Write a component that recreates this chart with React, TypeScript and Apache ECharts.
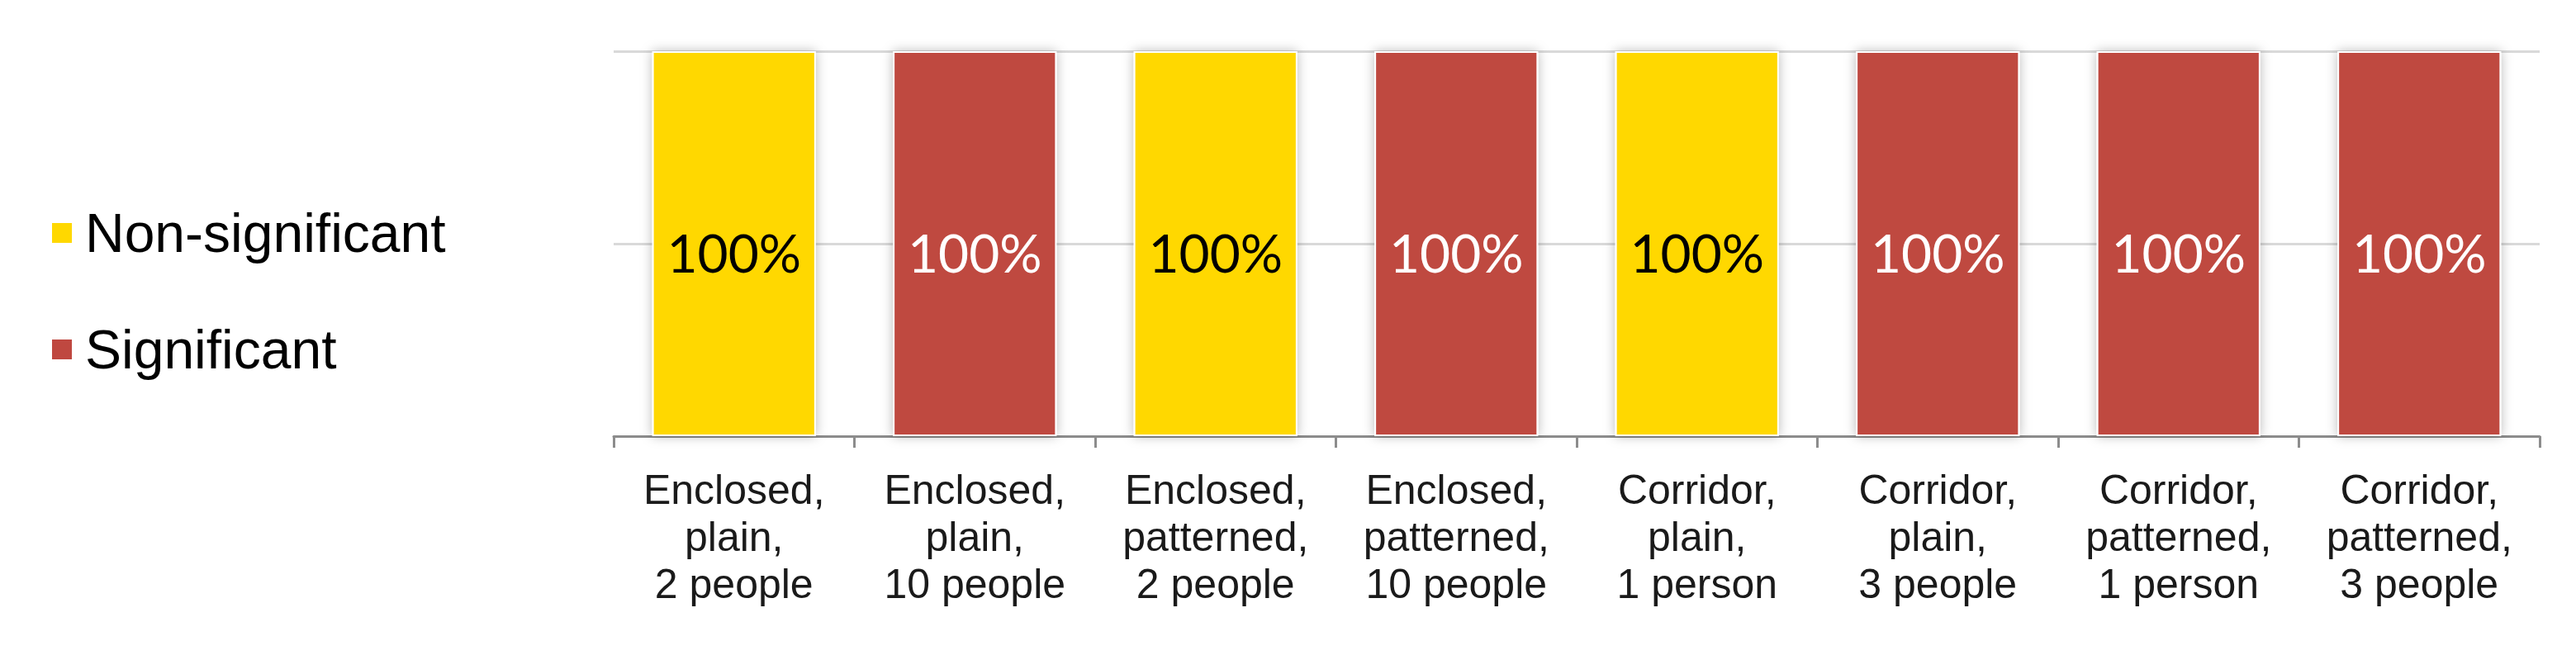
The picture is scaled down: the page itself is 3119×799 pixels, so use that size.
import React, { useEffect, useRef } from "react";
import * as echarts from "echarts";

const categories = [
  "Enclosed,\nplain,\n2 people",
  "Enclosed,\nplain,\n10 people",
  "Enclosed,\npatterned,\n2 people",
  "Enclosed,\npatterned,\n10 people",
  "Corridor,\nplain,\n1 person",
  "Corridor,\nplain,\n3 people",
  "Corridor,\npatterned,\n1 person",
  "Corridor,\npatterned,\n3 people",
];

const nonSignificant = [100, null, 100, null, 100, null, null, null];
const significant = [null, 100, null, 100, null, 100, 100, 100];

const YELLOW = "#FFD800";
const RED = "#BF4840";

export default function App() {
  const ref = useRef<HTMLDivElement>(null);
  useEffect(() => {
    if (!ref.current) return;
    const chart = echarts.init(ref.current, null, { renderer: "svg" });
    const barStyle = (color: string) => ({
      color,
      borderColor: "#ffffff",
      borderWidth: 2,
      shadowColor: "rgba(0,0,0,0.28)",
      shadowBlur: 14,
    });
    const labelStyle = (color: string) => ({
      show: true,
      position: "inside",
      offset: [0, 10],
      formatter: (p: any) => (p.value ? p.value + "%" : ""),
      fontFamily: "Lato",
      fontSize: 64,
      color,
    });
    chart.setOption({
      animation: false,
      backgroundColor: "#ffffff",
      legend: {
        orient: "vertical",
        left: 56,
        top: 234,
        itemWidth: 26,
        itemHeight: 26,
        itemGap: 55,
        icon: "rect",
        textStyle: {
          fontFamily: "Liberation Sans",
          fontSize: 66,
          color: "#000000",
          lineHeight: 74,
          padding: [12, 0, 0, 10],
        },
        data: ["Non-significant", "Significant"],
      },
      grid: {
        left: 743,
        right: 44,
        top: 62,
        bottom: 271,
        containLabel: false,
      },
      xAxis: {
        type: "category",
        data: categories,
        axisLine: { show: true, lineStyle: { color: "#8C8C8C", width: 3 } },
        axisTick: { show: true, length: 14, lineStyle: { color: "#8C8C8C", width: 3 } },
        axisLabel: {
          fontFamily: "Liberation Sans",
          fontSize: 50,
          lineHeight: 57,
          color: "#1a1a1a",
          margin: 36,
          interval: 0,
        },
      },
      yAxis: {
        type: "value",
        min: 0,
        max: 100,
        interval: 50,
        axisLine: { show: false },
        axisTick: { show: false },
        axisLabel: { show: false },
        splitLine: { show: true, lineStyle: { color: "#D9D9D9", width: 3 } },
      },
      series: [
        {
          name: "Non-significant",
          type: "bar",
          stack: "total",
          barWidth: "68%",
          data: nonSignificant,
          itemStyle: barStyle(YELLOW),
          label: labelStyle("#000000"),
        },
        {
          name: "Significant",
          type: "bar",
          stack: "total",
          barWidth: "68%",
          data: significant,
          itemStyle: barStyle(RED),
          label: labelStyle("#ffffff"),
        },
      ],
    });
    return () => chart.dispose();
  }, []);
  return (
    <div
      ref={ref}
      style={{ position: "fixed", left: 0, top: 0, width: 3119, height: 799 }}
    />
  );
}
